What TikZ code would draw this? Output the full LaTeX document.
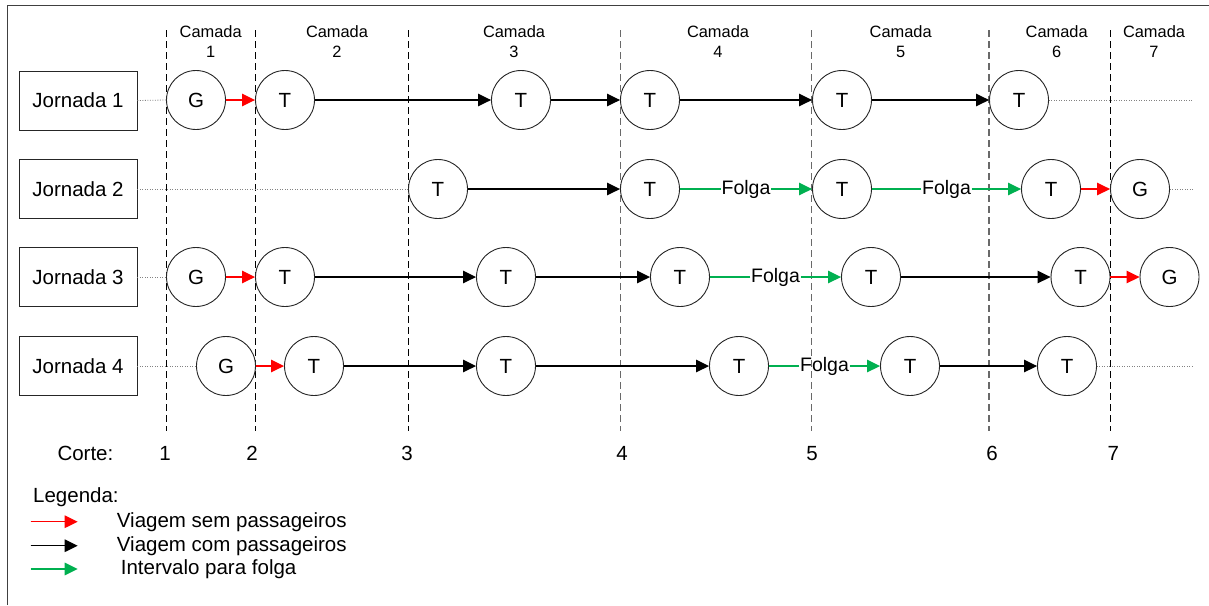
\documentclass[tikz,border=0pt]{standalone}
\usepackage{fontspec}
\setmainfont{Liberation Sans}
\usetikzlibrary{arrows.meta,calc}
\definecolor{tripred}{RGB}{255,0,0}
\definecolor{restgreen}{RGB}{0,176,80}
\definecolor{cutgray}{RGB}{105,105,105}
\definecolor{guidegray}{RGB}{130,130,130}
\begin{document}
\begin{tikzpicture}[x=1pt,y=-1pt,
  every node/.style={font=\fontsize{20.5}{24}\selectfont},
  jbox/.style={rectangle,draw=black!85,line width=0.9pt,minimum width=118pt,minimum height=59pt,inner sep=0pt},
  stop/.style={circle,draw=black!85,line width=0.9pt,fill=white,minimum size=59pt,inner sep=0pt},
  tip/.style={-{Triangle[length=13pt,width=12.5pt]}},
  deadhead/.style={tip,draw=tripred,fill=tripred,line width=1.5pt},
  service/.style={tip,draw=black,fill=black,line width=1.5pt},
  restleg/.style={draw=restgreen,fill=restgreen,line width=1.5pt},
  guide/.style={draw=guidegray,line width=0.8pt,dash pattern=on 1pt off 1.5pt},
  cutline/.style={line width=1.2pt,dash pattern=on 7pt off 4pt},
  layer/.style={font=\fontsize{16.4}{20}\selectfont,align=center,inner sep=0pt},
  cutnum/.style={inner sep=0pt},
  folga/.style={inner sep=0.5pt,font=\fontsize{19.5}{22}\selectfont},
  legtext/.style={anchor=west,inner sep=0pt}
]
\useasboundingbox (0,0) rectangle (1209,605);

% outer frame (top and left edges)
\draw[line width=1pt,black!75] (7.3,605) -- (7.3,5.7) -- (1209,5.7);

% cut lines between layers
\draw[cutline,black]   (166.7,30) -- (166.7,431);
\draw[cutline,black]   (255.3,30) -- (255.3,431);
\draw[cutline,black]   (408.3,30) -- (408.3,431);
\draw[cutline,cutgray] (620.7,30) -- (620.7,431);
\draw[cutline,cutgray] (811.7,30) -- (811.7,431);
\draw[cutline,cutgray] (989,30)   -- (989,431);
\draw[cutline,black]   (1110.3,30) -- (1110.3,431);

% layer headings
\node[layer] (c1) at (210.7,42) {Camada\\1};
\node[layer] (c2) at (337,42)   {Camada\\2};
\node[layer] (c3) at (514,42)   {Camada\\3};
\node[layer] (c4) at (718,42)   {Camada\\4};
\node[layer] (c5) at (900.7,42) {Camada\\5};
\node[layer] (c6) at (1056.7,42){Camada\\6};
\node[layer] (c7) at (1154,42)  {Camada\\7};

% duty labels
\node[jbox] (j1) at (78,100.5) {Jornada 1};
\node[jbox] (j2) at (78,189)   {Jornada 2};
\node[jbox] (j3) at (78,277)   {Jornada 3};
\node[jbox] (j4) at (78,366)   {Jornada 4};

% row 1
\node[stop] (g11) at (196,100) {G};
\node[stop] (t12) at (285,100) {T};
\node[stop] (t13) at (521,100) {T};
\node[stop] (t14) at (650,100) {T};
\node[stop] (t15) at (842,100) {T};
\node[stop] (t16) at (1019,100) {T};
\coordinate (e1) at (1193,100);

% row 2
\node[stop] (t21) at (438,189)  {T};
\node[stop] (t22) at (650,189)  {T};
\node[stop] (t23) at (842,189)  {T};
\node[stop] (t24) at (1051,189) {T};
\node[stop] (g25) at (1140,189) {G};
\coordinate (e2) at (1193,189);

% row 3
\node[stop] (g31) at (196,277)    {G};
\node[stop] (t32) at (285,277)    {T};
\node[stop] (t33) at (506,277)    {T};
\node[stop] (t34) at (680,277)    {T};
\node[stop] (t35) at (871,277)    {T};
\node[stop] (t36) at (1080.5,277) {T};
\node[stop] (g37) at (1169.5,277) {G};

% row 4
\node[stop] (g41) at (226,366)  {G};
\node[stop] (t42) at (314,366)  {T};
\node[stop] (t43) at (506,366)  {T};
\node[stop] (t44) at (739,366)  {T};
\node[stop] (t45) at (910,366)  {T};
\node[stop] (t46) at (1067,366) {T};
\coordinate (e4) at (1193,366);

% dotted guides
\draw[guide] (j1.east) -- (g11.west);
\draw[guide] (t16.east) -- (e1);
\draw[guide] (j2.east) -- (t21.west);
\draw[guide] (g25.east) -- (e2);
\draw[guide] (j3.east) -- (g31.west);
\draw[guide] (j4.east) -- (g41.west);
\draw[guide] (t46.east) -- (e4);

% row 1 trips
\draw[deadhead] (g11) -- (t12);
\draw[service] (t12) -- (t13);
\draw[service] (t13) -- (t14);
\draw[service] (t14) -- (t15);
\draw[service] (t15) -- (t16);

% row 2 trips
\draw[service] (t21) -- (t22);
\node[folga] (f21) at ($(t22)!0.5!(t23)$) {Folga};
\draw[restleg] (t22) -- (f21);
\draw[restleg,tip] (f21) -- (t23);
\node[folga] (f22) at ($(t23)!0.5!(t24)$) {Folga};
\draw[restleg] (t23) -- (f22);
\draw[restleg,tip] (f22) -- (t24);
\draw[deadhead] (t24) -- (g25);

% row 3 trips
\draw[deadhead] (g31) -- (t32);
\draw[service] (t32) -- (t33);
\draw[service] (t33) -- (t34);
\node[folga] (f31) at ($(t34)!0.5!(t35)$) {Folga};
\draw[restleg] (t34) -- (f31);
\draw[restleg,tip] (f31) -- (t35);
\draw[service] (t35) -- (t36);
\draw[deadhead] (t36) -- (g37);

% row 4 trips
\draw[deadhead] (g41) -- (t42);
\draw[service] (t42) -- (t43);
\draw[service] (t43) -- (t44);
\node[folga] (f41) at ($(t44)!0.5!(t45)$) {Folga};
\draw[restleg] (t44) -- (f41);
\draw[restleg,tip] (f41) -- (t45);
\draw[service] (t45) -- (t46);

% cut numbers
\node[legtext] (corte) at (57.3,453) {Corte:};
\node[cutnum,anchor=base] (n1) at (165,460.5)   {1};
\node[cutnum,anchor=base] (n2) at (252,460.5)   {2};
\node[cutnum,anchor=base] (n3) at (407,460.5)   {3};
\node[cutnum,anchor=base] (n4) at (622,460.5)   {4};
\node[cutnum,anchor=base] (n5) at (812,460.5)   {5};
\node[cutnum,anchor=base] (n6) at (992,460.5)   {6};
\node[cutnum,anchor=base] (n7) at (1113.3,460.5){7};

% legend
\node[legtext] (leg) at (33,497) {Legenda:};
\coordinate (la1) at (30.7,521.7);
\coordinate (lb1) at (77.7,521.7);
\coordinate (la2) at (30.7,545.7);
\coordinate (lb2) at (77.7,545.7);
\coordinate (la3) at (30.7,569);
\coordinate (lb3) at (77.7,569);
\draw[deadhead,line width=1.4pt] (la1) -- (lb1);
\draw[service,line width=1.4pt] (la2) -- (lb2);
\draw[restleg,tip,line width=1.4pt] (la3) -- (lb3);
\node[legtext] (lt1) at (116.7,521.7) {Viagem sem passageiros};
\node[legtext] (lt2) at (116.7,545.7) {Viagem com passageiros};
\node[legtext] (lt3) at (120.7,569)   {Intervalo para folga};
\end{tikzpicture}
\end{document}
